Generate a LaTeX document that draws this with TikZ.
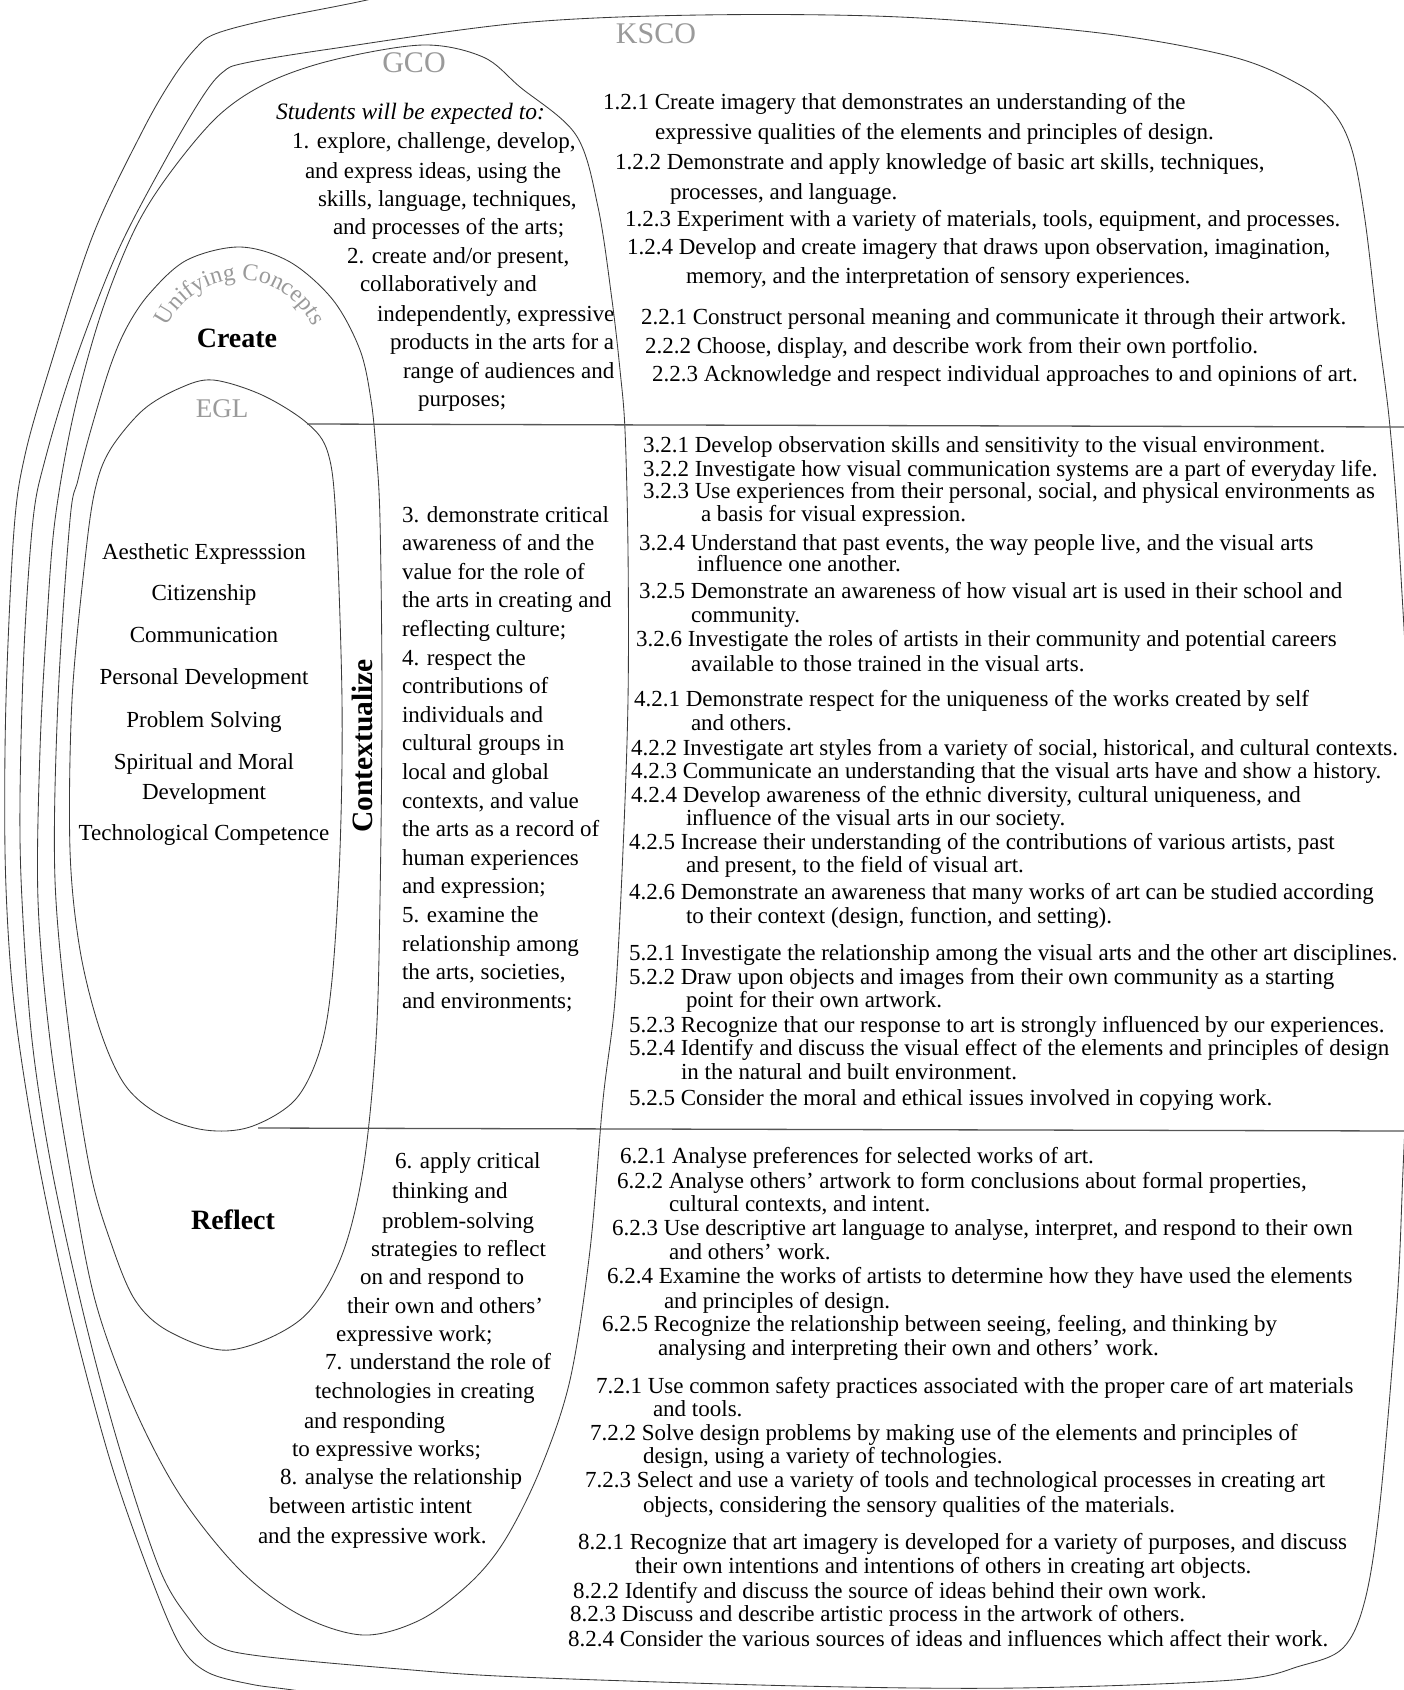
\documentclass[tikz,border=0pt]{standalone}
\usepackage{fontspec}
\setmainfont{Liberation Serif}
\usetikzlibrary{decorations.text}
\definecolor{lblgray}{HTML}{9A9A9A}
\definecolor{linecol}{HTML}{3A3A3A}
\definecolor{divcol}{HTML}{555555}
\newcommand{\gline}[4]{\node[tl,gtxt] (#1) at (#2,#3) {#4};}
\newcommand{\kline}[4]{\node[tl,ktxt] (#1) at (#2,#3) {#4};}
\begin{document}
\begin{tikzpicture}[x=1pt,y=-1pt,
  tl/.style={anchor=base west, inner sep=0pt, outer sep=0pt, font=\fontsize{23}{23}\selectfont},
  gtxt/.style={font=\fontsize{23}{23}\selectfont},
  ktxt/.style={font=\fontsize{23}{23}\selectfont},
  egl/.style={anchor=base, inner sep=0pt, font=\fontsize{23}{23}\selectfont},
  shp/.style={draw=linecol, line width=0.85pt},
  divline/.style={draw=divcol, line width=1.3pt},
  lbl/.style={text=lblgray, inner sep=0pt},
  big/.style={inner sep=0pt, font=\bfseries\fontsize{28}{28}\selectfont}]
\useasboundingbox (0,0) rectangle (1404,1690);
\begin{scope}
\clip (0,0) rectangle (1404,1690);
% A outermost
\draw[shp] plot[smooth,tension=0.55] coordinates {(470,-25) (367,0) (267,20) (215,34) (196,48) (173,78) (143,130) (93,235) (50,367) (25,455) (14,530) (6,700) (5,850) (10,960) (20,1050) (40,1170) (70,1310) (110,1460) (150,1575) (180,1645) (207,1672) (250,1684) (293,1690) (400,1705)};
% B KSCO
\draw[shp] plot[smooth cycle,tension=0.55] coordinates {(223,72) (245,63) (330,49) (520,23) (700,15) (900,17) (1100,33) (1233,57) (1300,85) (1333,112) (1352,150) (1365,220) (1378,330) (1390,427) (1400,560) (1412,800) (1410,1000) (1403,1170) (1397,1303) (1380,1503) (1365,1600) (1343,1648) (1300,1666) (1233,1680) (1017,1688) (800,1686) (520,1677) (400,1669) (260,1656) (215,1645) (190,1620) (160,1570) (120,1450) (85,1320) (52,1170) (32,1040) (22,900) (20,800) (24,650) (33,520) (45,460) (73,367) (117,253) (167,157) (203,96)};
% C GCO
\draw[shp] plot[smooth cycle,tension=0.55] coordinates {(423,45) (483,57) (520,87) (576,135) (598,207) (612,300) (620,370) (625,430) (628,550) (628,700) (623,850) (615,1000) (603,1100) (590,1250) (570,1380) (540,1470) (505,1540) (470,1583) (420,1620) (363,1635) (300,1615) (240,1570) (180,1495) (133,1405) (95,1300) (70,1170) (50,1040) (38,900) (40,750) (47,620) (55,520) (73,417) (100,317) (133,233) (167,177) (217,117) (267,83) (333,60)};
% D Unifying concepts
\draw[shp] plot[smooth cycle,tension=0.55] coordinates {(240,247) (290,262) (333,300) (360,350) (371,400) (376,450) (380,520) (382,700) (380,900) (376,1040) (363,1170) (340,1260) (300,1320) (230,1350) (170,1332) (135,1300) (110,1240) (90,1170) (70,1040) (55,880) (58,700) (70,520) (78,480) (90,433) (110,367) (127,327) (150,293) (187,260)};
% EGL
\draw[shp] plot[smooth cycle,tension=0.55] coordinates {(213,380) (262,395) (307,423) (328,453) (336,520) (342,700) (340,850) (332,980) (320,1050) (295,1100) (250,1127) (205,1130) (160,1115) (125,1085) (100,1030) (80,950) (70,850) (72,700) (85,560) (95,490) (110,450) (143,410) (180,388)};
\end{scope}
% divider lines
\coordinate (h1a) at (307,424);
\coordinate (h1b) at (1404,427);
\coordinate (h2a) at (258,1128);
\coordinate (h2b) at (1404,1131);
\draw[divline] (h1a) -- (h1b);
\draw[divline] (h2a) -- (h2b);
% labels
\node[lbl, font=\fontsize{30}{30}\selectfont] (ksco) at (656,34) {KSCO};
\node[lbl, font=\fontsize{30}{30}\selectfont] (gco) at (414,63) {GCO};
\node[lbl, font=\fontsize{27}{27}\selectfont] (eglt) at (222,409) {EGL};
\path[decorate, decoration={text along path, text align=center,
   text={|\fontsize{24}{24}\selectfont\color{lblgray}|Unifying Concepts}}]
   (240,360) ++(172:80pt) arc[start angle=172, end angle=8, radius=80pt];
\node[big] (create) at (237,338) {Create};
\node[big] (reflect) at (233,1220) {Reflect};
\node[big, rotate=90, font=\bfseries\fontsize{29.5}{29.5}\selectfont] (ctx) at (362,746) {Contextualize};
% GCO 1-2
\node[tl, font=\itshape\fontsize{23.5}{23.5}\selectfont] (stud) at (276,119) {Students will be expected to:};
\gline{g1}{292}{148}{1. explore, challenge, develop,}
\gline{g2}{305}{178}{and express ideas, using the}
\gline{g3}{318}{206}{skills, language, techniques,}
\gline{g4}{333}{234}{and processes of the arts;}
\gline{g5}{347}{263}{2. create and/or present,}
\gline{g6}{360}{291}{collaboratively and}
\gline{g7}{377}{321}{independently, expressive}
\gline{g8}{390}{349}{products in the arts for a}
\gline{g9}{403}{378}{range of audiences and}
\gline{g10}{418}{406}{purposes;}
% GCO 3-5
\gline{m1}{402}{522}{3. demonstrate critical}
\gline{m2}{402}{550.6}{awareness of and the}
\gline{m3}{402}{579.2}{value for the role of}
\gline{m4}{402}{607.8}{the arts in creating and}
\gline{m5}{402}{636.4}{reflecting culture;}
\gline{m6}{402}{665}{4. respect the}
\gline{m7}{402}{693.6}{contributions of}
\gline{m8}{402}{722.2}{individuals and}
\gline{m9}{402}{750.8}{cultural groups in}
\gline{m10}{402}{779.4}{local and global}
\gline{m11}{402}{808}{contexts, and value}
\gline{m12}{402}{836.6}{the arts as a record of}
\gline{m13}{402}{865.2}{human experiences}
\gline{m14}{402}{893.8}{and expression;}
\gline{m15}{402}{922.4}{5. examine the}
\gline{m16}{402}{951}{relationship among}
\gline{m17}{402}{979.6}{the arts, societies,}
\gline{m18}{402}{1008.2}{and environments;}
% GCO 6-8
\gline{r1}{395}{1168}{6. apply critical}
\gline{r2}{392}{1198}{thinking and}
\gline{r3}{382}{1228}{problem-solving}
\gline{r4}{371}{1256}{strategies to reflect}
\gline{r5}{360}{1284}{on and respond to}
\gline{r6}{347}{1313}{their own and others’}
\gline{r7}{336}{1341}{expressive work;}
\gline{r8}{325}{1369}{7. understand the role of}
\gline{r9}{315}{1398}{technologies in creating}
\gline{r10}{304}{1428}{and responding}
\gline{r11}{292}{1456}{to expressive works;}
\gline{r12}{280}{1484}{8. analyse the relationship}
\gline{r13}{269}{1513}{between artistic intent}
\gline{r14}{258}{1543}{and the expressive work.}
% EGL list
\node[egl] (e1) at (204,559) {Aesthetic Expresssion};
\node[egl] (e2) at (204,600) {Citizenship};
\node[egl] (e3) at (204,642) {Communication};
\node[egl] (e4) at (204,684) {Personal Development};
\node[egl] (e5) at (204,727) {Problem Solving};
\node[egl] (e6) at (204,769) {Spiritual and Moral};
\node[egl] (e7) at (204,799) {Development};
\node[egl] (e8) at (204,840) {Technological Competence};
% KSCO 1-2
\kline{k1}{603}{109}{1.2.1 Create imagery that demonstrates an understanding of the}
\kline{k2}{655}{139}{expressive qualities of the elements and principles of design.}
\kline{k3}{615}{169}{1.2.2 Demonstrate and apply knowledge of basic art skills, techniques,}
\kline{k4}{670}{199}{processes, and language.}
\kline{k5}{625}{226}{1.2.3 Experiment with a variety of materials, tools, equipment, and processes.}
\kline{k6}{627}{254}{1.2.4 Develop and create imagery that draws upon observation, imagination,}
\kline{k7}{686}{283}{memory, and the interpretation of sensory experiences.}
\kline{k8}{641}{324}{2.2.1 Construct personal meaning and communicate it through their artwork.}
\kline{k9}{645}{353}{2.2.2 Choose, display, and describe work from their own portfolio.}
\kline{k10}{652}{381}{2.2.3 Acknowledge and respect individual approaches to and opinions of art.}
% KSCO 3-5
\kline{c1}{643}{452}{3.2.1 Develop observation skills and sensitivity to the visual environment.}
\kline{c2}{643}{476}{3.2.2 Investigate how visual communication systems are a part of everyday life.}
\kline{c3}{643}{498}{3.2.3 Use experiences from their personal, social, and physical environments as}
\kline{c4}{701}{521}{a basis for visual expression.}
\kline{c5}{639}{550}{3.2.4 Understand that past events, the way people live, and the visual arts}
\kline{c6}{697}{571}{influence one another.}
\kline{c7}{639}{598}{3.2.5 Demonstrate an awareness of how visual art is used in their school and}
\kline{c8}{691}{622}{community.}
\kline{c9}{636}{646}{3.2.6 Investigate the roles of artists in their community and potential careers}
\kline{c10}{691}{671}{available to those trained in the visual arts.}
\kline{c11}{634}{706}{4.2.1 Demonstrate respect for the uniqueness of the works created by self}
\kline{c12}{691}{730}{and others.}
\kline{c13}{631}{755}{4.2.2 Investigate art styles from a variety of social, historical, and cultural contexts.}
\kline{c14}{631}{778}{4.2.3 Communicate an understanding that the visual arts have and show a history.}
\kline{c15}{631}{802}{4.2.4 Develop awareness of the ethnic diversity, cultural uniqueness, and}
\kline{c16}{686}{825}{influence of the visual arts in our society.}
\kline{c17}{629}{849}{4.2.5 Increase their understanding of the contributions of various artists, past}
\kline{c18}{686}{872}{and present, to the field of visual art.}
\kline{c19}{629}{899}{4.2.6 Demonstrate an awareness that many works of art can be studied according}
\kline{c20}{686}{923}{to their context (design, function, and setting).}
\kline{c21}{629}{960}{5.2.1 Investigate the relationship among the visual arts and the other art disciplines.}
\kline{c22}{629}{984}{5.2.2 Draw upon objects and images from their own community as a starting}
\kline{c23}{686}{1007}{point for their own artwork.}
\kline{c24}{629}{1032}{5.2.3 Recognize that our response to art is strongly influenced by our experiences.}
\kline{c25}{629}{1055}{5.2.4 Identify and discuss the visual effect of the elements and principles of design}
\kline{c26}{681}{1079}{in the natural and built environment.}
\kline{c27}{629}{1105}{5.2.5 Consider the moral and ethical issues involved in copying work.}
% KSCO 6-8
\kline{s1}{620}{1163}{6.2.1 Analyse preferences for selected works of art.}
\kline{s2}{617}{1188}{6.2.2 Analyse others’ artwork to form conclusions about formal properties,}
\kline{s3}{669}{1211}{cultural contexts, and intent.}
\kline{s4}{612}{1235}{6.2.3 Use descriptive art language to analyse, interpret, and respond to their own}
\kline{s5}{669}{1259}{and others’ work.}
\kline{s6}{607}{1283}{6.2.4 Examine the works of artists to determine how they have used the elements}
\kline{s7}{664}{1308}{and principles of design.}
\kline{s8}{602}{1331}{6.2.5 Recognize the relationship between seeing, feeling, and thinking by}
\kline{s9}{658}{1355}{analysing and interpreting their own and others’ work.}
\kline{s10}{596}{1393}{7.2.1 Use common safety practices associated with the proper care of art materials}
\kline{s11}{653}{1416}{and tools.}
\kline{s12}{590}{1440}{7.2.2 Solve design problems by making use of the elements and principles of}
\kline{s13}{643}{1463}{design, using a variety of technologies.}
\kline{s14}{585}{1487}{7.2.3 Select and use a variety of tools and technological processes in creating art}
\kline{s15}{643}{1512}{objects, considering the sensory qualities of the materials.}
\kline{s16}{578}{1549}{8.2.1 Recognize that art imagery is developed for a variety of purposes, and discuss}
\kline{s17}{635}{1573}{their own intentions and intentions of others in creating art objects.}
\kline{s18}{573}{1598}{8.2.2 Identify and discuss the source of ideas behind their own work.}
\kline{s19}{570}{1621}{8.2.3 Discuss and describe artistic process in the artwork of others.}
\kline{s20}{568}{1646}{8.2.4 Consider the various sources of ideas and influences which affect their work.}
\end{tikzpicture}
\end{document}
